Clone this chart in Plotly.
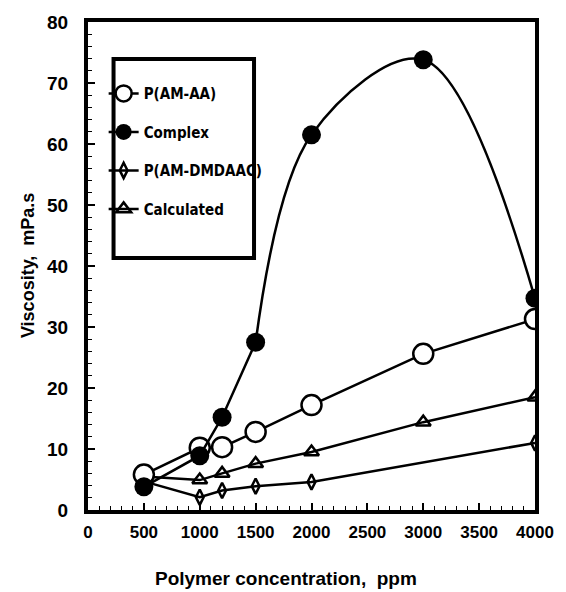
import plotly.graph_objects as go

conc_aa = [500, 1000, 1200, 1500, 2000, 3000, 4000]
visc_aa = [5.8, 10.2, 10.3, 12.8, 17.2, 25.6, 31.3]

conc_cx = [500, 1000, 1200, 1500, 2000, 3000, 4000]
visc_cx = [3.8, 8.9, 15.2, 27.5, 61.5, 73.8, 34.7]

conc_dm = [500, 1000, 1200, 1500, 2000, 4000]
visc_dm = [4.7, 2.1, 3.2, 3.9, 4.6, 11.0]

conc_calc = [500, 1000, 1200, 1500, 2000, 3000, 4000]
visc_calc = [5.5, 4.9, 6.0, 7.6, 9.5, 14.4, 18.5]

FONT = "Liberation Sans, Arial, sans-serif"
LFONT = "Liberation Sans Narrow, DejaVu Sans Condensed, Liberation Sans, sans-serif"
fig = go.Figure()

fig.add_trace(go.Scatter(x=conc_dm, y=visc_dm, name="P(AM-DMDAAC)", mode="lines+markers",
                         line=dict(color="black", width=2.5),
                         marker=dict(symbol="diamond-tall-open", size=11, color="black",
                                     line=dict(width=2.5, color="black")),
                         legendgroup="c", legendrank=3))
fig.add_trace(go.Scatter(x=conc_calc, y=visc_calc, name="Calculated", mode="lines+markers",
                         line=dict(color="black", width=2.5),
                         marker=dict(symbol="triangle-up-open", size=13, color="black",
                                     line=dict(width=2.5, color="black")),
                         legendgroup="d", legendrank=4))
fig.add_trace(go.Scatter(x=conc_aa, y=visc_aa, name="P(AM-AA)", mode="lines+markers",
                         line=dict(color="black", width=2.5),
                         marker=dict(symbol="circle", size=20, color="white",
                                     line=dict(width=2.5, color="black")),
                         legendgroup="a", legendrank=1))
# Complex: smooth curve from 1500 ppm on, straight segments below
fig.add_trace(go.Scatter(x=conc_cx[3:], y=visc_cx[3:], name="Complex curve", mode="lines",
                         line=dict(color="black", width=2.5, shape="spline", smoothing=1.0),
                         legendgroup="x1", showlegend=False, hoverinfo="skip"))
fig.add_trace(go.Scatter(x=conc_cx[4:], y=visc_cx[4:], name="Complex points", mode="markers",
                         marker=dict(symbol="circle", size=19, color="black"),
                         legendgroup="x2", showlegend=False))
fig.add_trace(go.Scatter(x=conc_cx[:4], y=visc_cx[:4], name="Complex", mode="lines+markers",
                         line=dict(color="black", width=2.5),
                         marker=dict(symbol="circle", size=19, color="black"),
                         legendgroup="b", legendrank=2, showlegend=True))

fig.update_layout(
    width=566, height=592,
    margin=dict(l=88, r=23, t=22, b=82),
    paper_bgcolor="white", plot_bgcolor="white",
    font=dict(family=FONT, color="black", size=16),
    legend=dict(x=0.035, y=0.887, xanchor="left", yanchor="top",
                bgcolor="rgba(0,0,0,0)", borderwidth=0,
                traceorder="grouped", tracegroupgap=16,
                itemwidth=30,
                font=dict(family=LFONT, size=15, color="black", weight="bold")),
    xaxis=dict(range=[0, 4000], tickvals=[0, 500, 1000, 1500, 2000, 2500, 3000, 3500, 4000],
               ticks="inside", ticklen=7, tickwidth=1.5, tickcolor="black",
               minor=dict(dtick=100, ticks="inside", ticklen=4, tickcolor="black", tickwidth=1),
               showgrid=False, zeroline=False, showline=True, linewidth=4, linecolor="black",
               mirror=True, ticklabelstandoff=4,
               tickfont=dict(family=FONT, size=17, color="black", weight="bold")),
    yaxis=dict(range=[0, 80], dtick=10,
               ticks="inside", ticklen=7, tickwidth=1.5, tickcolor="black",
               minor=dict(dtick=2, ticks="inside", ticklen=4, tickcolor="black", tickwidth=1),
               showgrid=False, zeroline=False, showline=True, linewidth=4, linecolor="black",
               mirror=True, ticklabelstandoff=12,
               tickfont=dict(family=FONT, size=19, color="black", weight="bold")),
    shapes=[dict(type="rect", xref="paper", yref="paper",
                 x0=(114 - 88) / 455, x1=(257 - 88) / 455,
                 y0=(510 - 258) / 488, y1=(510 - 59) / 488,
                 line=dict(color="black", width=4))],
    annotations=[
        dict(text="Polymer concentration,  ppm", xref="paper", yref="paper",
             x=(290 - 88) / 455, y=-(578 - 510) / 488, xanchor="center", yanchor="middle",
             showarrow=False, font=dict(family=FONT, size=19, color="black", weight="bold")),
        dict(text="Viscosity,  mPa.s", xref="paper", yref="paper", textangle=-90,
             x=-(88 - 27) / 455, y=0.5, xanchor="center", yanchor="middle",
             showarrow=False, font=dict(family=FONT, size=18, color="black", weight="bold")),
    ],
)

fig.write_html("out.html")
